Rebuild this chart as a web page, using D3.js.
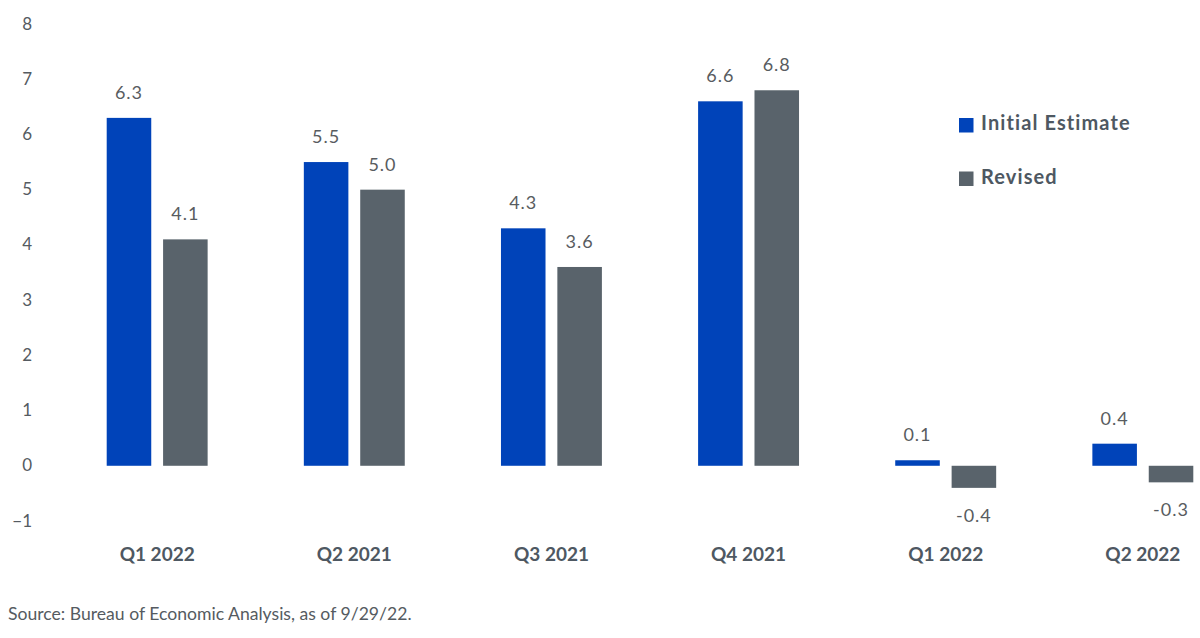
<!DOCTYPE html>
<html>
<head>
<meta charset="utf-8">
<script src="https://cdn.jsdelivr.net/npm/d3@7"></script>
<style>
  body { margin: 0; background: #fff; }
  text { font-family: "Source Sans Pro", Lato, "Open Sans", sans-serif; }
</style>
</head>
<body>
<div id="chart"></div>
<script>
// Chart data
var categories = ["Q1 2022", "Q2 2021", "Q3 2021", "Q4 2021", "Q1 2022", "Q2 2022"]
var seriesNames = ["Initial Estimate", "Revised"]
var initialEstimate = [6.3, 5.5, 4.3, 6.6, 0.1, 0.4]
var revised = [4.1, 5.0, 3.6, 6.8, -0.4, -0.3]
var yTicks = [-1, 0, 1, 2, 3, 4, 5, 6, 7, 8]
var sourceNote = "Source: Bureau of Economic Analysis, as of 9/29/22."

var colors = ["#0043b9", "#59636b"]

var width = 1200
var height = 638

var svg = d3.select("#chart")
  .append("svg")
  .attr("width", width)
  .attr("height", height)

// build rows for each group
var rows = []
for (i = 0; i < categories.length; i++) {
  rows.push({ idx: i, cat: categories[i], values: [initialEstimate[i], revised[i]] })
}

// scales
var x0 = d3.scaleBand()
  .domain(d3.range(categories.length))
  .range([106.7, 1193.3])
  .paddingInner(0.488)
  .paddingOuter(0)

var x1 = d3.scaleBand()
  .domain([0, 1])
  .range([0, x0.bandwidth()])
  .paddingInner(0.21)
  .paddingOuter(0)

var y = d3.scaleLinear()
  .domain([-1, 8])
  .range([521, 24])

// y axis labels, no line
var yAxis = d3.axisLeft(y).tickValues(yTicks).tickSize(0).tickPadding(0)
var yG = svg.append("g")
  .attr("transform", "translate(32,0)")
  .call(yAxis)
yG.select(".domain").remove()
yG.selectAll("text")
  .attr("fill", "#555b61")
  .style("font-size", "17px")
  .attr("dy", "0.3em")

// bars
var groups = svg.selectAll(".group")
  .data(rows)
  .enter()
  .append("g")
  .attr("class", "group")
  .attr("transform", function(d) { return "translate(" + x0(d.idx) + ",0)" })

groups.selectAll("rect")
  .data(function(d) { return d.values.map(function(v, s) { return { s: s, v: v } }) })
  .enter()
  .append("rect")
  .attr("x", function(d) { return x1(d.s) })
  .attr("width", x1.bandwidth())
  .attr("y", function(d) { return y(Math.max(0, d.v)) })
  .attr("height", function(d) { return Math.abs(y(d.v) - y(0)) })
  .attr("fill", function(d) { return colors[d.s] })

// value labels
groups.selectAll(".val")
  .data(function(d) { return d.values.map(function(v, s) { return { s: s, v: v } }) })
  .enter()
  .append("text")
  .attr("class", "val")
  .attr("x", function(d) { return x1(d.s) + x1.bandwidth() / 2 })
  .attr("y", function(d) { return d.v >= 0 ? y(d.v) - 19 : y(d.v) + 34 })
  .attr("text-anchor", "middle")
  .attr("fill", "#585c60")
  .style("font-size", "18px")
  .style("letter-spacing", "1px")
  .text(function(d) { return d.v.toFixed(1) })

// category labels
svg.selectAll(".cat")
  .data(rows)
  .enter()
  .append("text")
  .attr("class", "cat")
  .attr("x", function(d) { return x0(d.idx) + x0.bandwidth() / 2 })
  .attr("y", 561)
  .attr("text-anchor", "middle")
  .attr("fill", "#4e5862")
  .style("font-size", "19px")
  .style("font-weight", "bold")
  .text(function(d) { return d.cat })

// legend
var legend = svg.selectAll(".legend")
  .data(seriesNames)
  .enter()
  .append("g")
  .attr("class", "legend")
  .attr("transform", function(d, i) { return "translate(959," + (118 + i * 53.5) + ")" })

legend.append("rect")
  .attr("width", 14.5)
  .attr("height", 14.5)
  .attr("fill", function(d, i) { return colors[i] })

legend.append("text")
  .attr("x", 22)
  .attr("y", 12)
  .attr("fill", "#4e5862")
  .style("font-size", "20px")
  .style("font-weight", "bold")
  .style("letter-spacing", "1.1px")
  .text(function(d) { return d })

// source note
svg.append("text")
  .attr("x", 8)
  .attr("y", 620)
  .attr("fill", "#555b61")
  .style("font-size", "17.6px")
  .text(sourceNote)
</script>
</body>
</html>
